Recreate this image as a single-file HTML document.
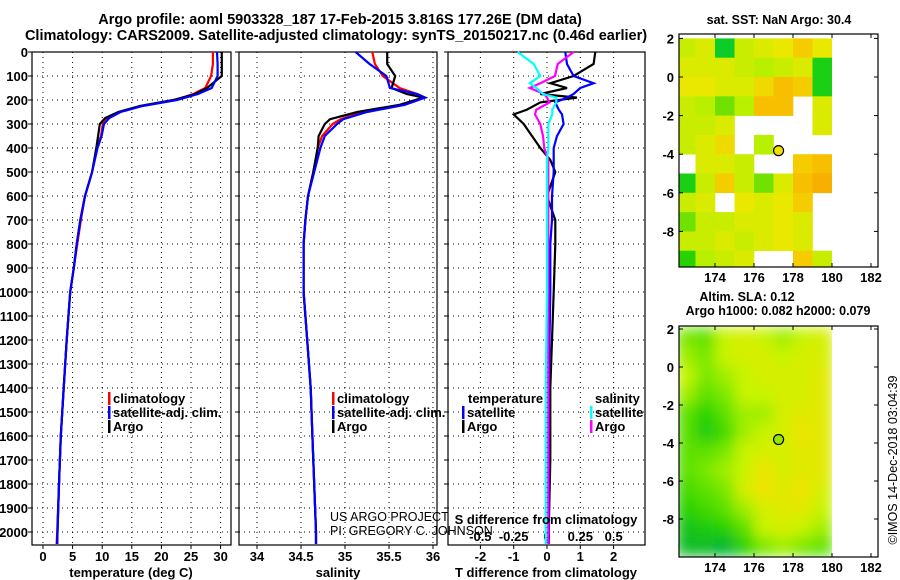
<!DOCTYPE html>
<html><head><meta charset="utf-8"><style>
html,body{margin:0;padding:0;background:#fff;}
svg{display:block;font-family:"Liberation Sans",Arial,sans-serif;}
.b{font-weight:bold;font-size:13px;}
</style></head><body>
<svg id="c" width="900" height="580" viewBox="0 0 900 580" xmlns="http://www.w3.org/2000/svg">
<text x="340" y="24" text-anchor="middle" font-size="14.5" font-weight="bold">Argo profile: aoml 5903328_187 17-Feb-2015 3.816S 177.26E (DM data)</text>
<text x="336" y="40" text-anchor="middle" font-size="14.5" font-weight="bold">Climatology: CARS2009. Satellite-adjusted climatology: synTS_20150217.nc (0.46d earlier)</text>
<g id="g"></g>
</svg>
<script>
// ---- data ----
const depthT = [0,50,100,150,175,200,225,250,275,300,350,400,500,600,700,800,900,1000,1200,1400,1600,1800,2000,2050];
const tempArgo = [30.2,30.2,30.2,27.7,25.7,22.0,16.4,12.7,10.5,9.6,9.3,9.0,8.3,7.1,6.3,5.7,5.2,4.6,4.0,3.5,3.0,2.7,2.45,2.4];
const tempClim = [28.7,28.7,28.4,27.4,25.4,22.3,16.6,12.9,11.0,10.1,9.8,9.1,8.3,7.1,6.4,5.8,5.2,4.6,4.0,3.5,3.0,2.7,2.4,2.3];
const tempSat  = [29.4,29.5,29.5,28.5,26.2,22.6,16.8,13.1,11.2,10.3,9.9,9.2,8.3,7.1,6.3,5.7,5.2,4.6,4.0,3.5,3.0,2.7,2.45,2.4];
const depthS = [0,50,100,150,175,190,220,250,280,300,350,400,500,600,700,800,1000,1200,1400,1600,1800,2000,2050];
const salArgo = [35.48,35.48,35.57,35.53,35.70,35.89,35.62,35.14,34.83,34.77,34.70,34.69,34.64,34.58,34.55,34.53,34.53,34.57,34.61,34.63,34.65,34.67,34.67];
const salClim = [35.31,35.34,35.43,35.62,35.82,35.91,35.66,35.20,34.95,34.86,34.74,34.69,34.64,34.58,34.55,34.53,34.53,34.57,34.61,34.63,34.65,34.67,34.67];
const salSat  = [35.12,35.28,35.47,35.51,35.82,35.91,35.68,35.25,34.98,34.91,34.77,34.72,34.65,34.58,34.55,34.53,34.53,34.57,34.61,34.63,34.65,34.67,34.67];
const depthD = [0,50,100,130,150,175,190,210,240,260,300,350,400,450,500,600,700,800,1000,1400,1700,2000,2050];
const dTArgo = [1.45,1.4,0.8,0.1,0.6,-0.2,0.9,-0.2,-0.6,-1.0,-0.7,-0.45,-0.2,0.1,0.25,0.0,0.25,0.25,0.2,0.1,0.1,0.05,0.05];
const dTSat  = [0.55,0.6,0.8,1.4,1.0,0.8,0.6,0.25,0.35,0.45,0.5,0.3,0.2,0.2,0.2,0.15,0.15,0.1,0.1,0.05,0.05,0.05,0.05];
const dSSat  = [-0.22,-0.1,-0.05,-0.13,-0.08,-0.03,0.07,0.07,0.04,0.04,0.01,0.01,0.01,0.0,0.0,0.0,0.0,0.0,0.0,-0.01,-0.01,-0.01,-0.01];
const dSArgo = [0.2,0.08,0.06,-0.05,-0.13,-0.02,0.0,0.02,-0.08,-0.09,-0.05,-0.03,-0.02,0.01,0.01,0.01,0.01,0.01,0.01,0.01,0.01,0.01,0.01];
const depthTicks = [0,100,200,300,400,500,600,700,800,900,1000,1100,1200,1300,1400,1500,1600,1700,1800,1900,2000];
const tempTicks = [0,5,10,15,20,25,30];
const salTicks = [34,34.5,35,35.5,36];
const salTickLabels = ["34","34.5","35","35.5","36"];
const dTTicks = [-2,-1,0,1,2];
const dSTickLabels = ["-0.5","-0.25","0","0.25","0.5"];
const dSTicks = [-0.5,-0.25,0,0.25,0.5];
const lonTicks = [174,176,178,180,182];
const latTicks = [2,0,-2,-4,-6,-8];
const sstGrid = [
 [30.1,30.2,29.6,30.1,30.2,30.3,30.5,30.3],
 [30.2,30.2,30.2,30.1,30.0,30.1,30.2,29.7],
 [30.3,30.3,30.2,30.2,30.4,30.6,30.5,29.7],
 [30.1,30.0,29.9,30.0,30.6,30.6,NaN,30.2],
 [30.1,30.1,30.2,NaN,NaN,NaN,NaN,30.2],
 [30.1,30.2,30.4,NaN,30.0,NaN,NaN,NaN],
 [NaN,30.2,30.2,30.1,NaN,NaN,30.5,30.6],
 [29.7,30.1,30.5,30.1,29.9,30.2,30.6,30.7],
 [30.1,30.2,NaN,30.3,30.2,30.3,30.5,NaN],
 [29.9,30.1,30.1,30.2,30.2,30.3,30.2,NaN],
 [30.1,30.1,30.2,30.1,30.2,30.3,30.2,NaN],
 [29.8,30.0,30.1,30.2,NaN,NaN,30.5,30.1]];
const slaGrid = [
 [0.10,0.09,0.12,0.13,0.12,0.11,0.12,0.13],
 [0.11,0.10,0.12,0.13,0.13,0.12,0.13,0.13],
 [0.12,0.10,0.11,0.12,0.13,0.13,0.13,0.14],
 [0.11,0.09,0.10,0.12,0.12,0.13,0.13,0.14],
 [0.09,0.07,0.09,0.11,0.11,0.13,0.14,0.14],
 [0.09,0.06,0.08,0.11,0.12,0.13,0.15,0.14],
 [0.09,0.09,0.10,0.12,0.13,0.13,0.14,0.14],
 [0.09,0.10,0.11,0.12,0.15,0.13,0.14,0.14],
 [0.08,0.09,0.10,0.13,0.15,0.14,0.15,0.13],
 [0.07,0.08,0.09,0.11,0.13,0.14,0.14,0.12],
 [0.05,0.06,0.07,0.09,0.12,0.13,0.12,0.11],
 [0.04,0.04,0.03,0.07,0.10,0.11,0.10,0.09]];
const argoLon = 177.26, argoLat = -3.816;

// ---- helpers ----
const NS="http://www.w3.org/2000/svg";
const G=document.getElementById('g');
function el(tag,attrs,parent){const e=document.createElementNS(NS,tag);for(const k in attrs)e.setAttribute(k,attrs[k]);(parent||G).appendChild(e);return e;}
function txt(x,y,s,attrs){const t=el('text',Object.assign({x:x,y:y,'font-size':13,'font-weight':'bold'},attrs||{}));t.textContent=s;return t;}
const yD = d => 52 + d*0.24;
const xT = v => 43 + v*5.92;
const xS = v => 257 + (v-34)*88;
const xDT = v => 547 + v*33.3;
const xDS = v => 547 + v*133.3;
const P1={x0:32,x1:231},P2={x0:239,x1:437},P3={x0:448,x1:645},YT=52,YB=545;

function panel(p,name,vgrid){
  const g=el('g',{});
  
  
  depthTicks.forEach(d=>{el('line',{x1:p.x0,x2:p.x1,y1:yD(d),y2:yD(d),stroke:'#000','stroke-dasharray':'1,4'},g);
    el('line',{x1:p.x0-4,x2:p.x0,y1:yD(d),y2:yD(d),stroke:'#000'},g);});
  vgrid.forEach(x=>{el('line',{x1:x,x2:x,y1:YT,y2:YB,stroke:'#000','stroke-dasharray':'1,4'},g);
    el('line',{x1:x,x2:x,y1:YB,y2:YB+4,stroke:'#000'},g);});
  el('rect',{x:p.x0,y:YT,width:p.x1-p.x0,height:YB-YT,fill:'none',stroke:'#000','stroke-width':1.2},g);
  return g;
}
function line(ds,vs,fx,color,name,w){
  const pts=ds.map((d,i)=>fx(vs[i]).toFixed(1)+','+yD(d).toFixed(1)).join(' ');
  const l=el('polyline',{points:pts,fill:'none',stroke:color,'stroke-width':w||2.2});
  
  
}

// panel 1
panel(P1,'temperature-panel',tempTicks.map(xT));
depthTicks.forEach(d=>{const t=txt(28,yD(d)+5,String(d),{'text-anchor':'end'});});
tempTicks.forEach(v=>{const t=txt(xT(v),561,String(v),{'text-anchor':'middle'});});
line(depthT,tempClim,xT,'#f00','temp-climatology-line');
line(depthT,tempArgo,xT,'#000','temp-argo-line');
line(depthT,tempSat,xT,'#00f','temp-satellite-line');
{const t=txt(131,577,'temperature (deg C)',{'text-anchor':'middle'});}

// panel 2
panel(P2,'salinity-panel',salTicks.map(xS));
salTicks.forEach((v,i)=>{const t=txt(xS(v),561,salTickLabels[i],{'text-anchor':'middle'});});
line(depthS,salClim,xS,'#f00','sal-climatology-line');
line(depthS,salArgo,xS,'#000','sal-argo-line');
line(depthS,salSat,xS,'#00f','sal-satellite-line');
{const t=txt(338,577,'salinity',{'text-anchor':'middle'});}

// panel 3
panel(P3,'difference-panel',dTTicks.map(xDT));
dTTicks.forEach(v=>{const t=txt(xDT(v),561,String(v),{'text-anchor':'middle'});});
dSTicks.forEach((v,i)=>{const t=txt(xDS(v),541,dSTickLabels[i],{'text-anchor':'middle'});});
line(depthD,dTArgo,xDT,'#000','tdiff-argo-line');
line(depthD,dTSat,xDT,'#00f','tdiff-satellite-line');
line(depthD,dSArgo,xDS,'#f0f','sdiff-argo-line');
line(depthD,dSSat,xDS,'#0ff','sdiff-satellite-line');
{const t=txt(546,577,'T difference from climatology',{'text-anchor':'middle'});}
{const t=txt(546,524,'S difference from climatology',{'text-anchor':'middle'});}

// legends
function legItem(x,y,color,label,name){
  const g=el('g',{});
  
  
  el('rect',{x:x,y:y-11,width:2.5,height:13,fill:color},g);
  const t=el('text',{x:x+5,y:y,'font-size':13,'font-weight':'bold'},g);t.textContent=label;
}
legItem(108,403,'#f00','climatology','legend-climatology');
legItem(108,417,'#00f','satellite-adj. clim.','legend-satellite-adj');
legItem(108,431,'#000','Argo','legend-argo');
legItem(332,403,'#f00','climatology','legend2-climatology');
legItem(332,417,'#00f','satellite-adj. clim.','legend2-satellite-adj');
legItem(332,431,'#000','Argo','legend2-argo');
{const t=txt(468,403,'temperature');}
{const t=txt(595,403,'salinity');}
legItem(462,417,'#00f','satellite','legend-tdiff-satellite');
legItem(462,431,'#000','Argo','legend-tdiff-argo');
legItem(590,417,'#0ff','satellite','legend-sdiff-satellite');
legItem(590,431,'#f0f','Argo','legend-sdiff-argo');
{const t=txt(330,521,'US ARGO PROJECT',{'font-weight':'normal','font-size':12.5});}
{const t=txt(330,535,'PI: GREGORY C. JOHNSON',{'font-weight':'normal','font-size':12.5});}

// ---- maps ----
const xL = lon => 715 + (lon-174)*19.5;
function lerpC(stops,v){
  if(v<=stops[0][0])return stops[0][1];
  for(let i=1;i<stops.length;i++){if(v<=stops[i][0]){const a=stops[i-1],b=stops[i],t=(v-a[0])/(b[0]-a[0]);
    return 'rgb('+[0,1,2].map(k=>Math.round(a[1][k]+(b[1][k]-a[1][k])*t)).join(',')+')';}}
  return 'rgb('+stops[stops.length-1][1].join(',')+')';
}
function fixC(c){return typeof c==='string'?c:'rgb('+c.join(',')+')';}
const sstStops=[[29.5,[0,200,60]],[29.8,[40,210,0]],[30.0,[184,240,0]],[30.3,[235,232,0]],[30.6,[248,190,0]],[30.8,[245,160,0]],[31,[255,0,0]]];
const slaStops=[[0.03,[0,180,50]],[0.07,[40,210,0]],[0.10,[120,232,0]],[0.12,[200,244,0]],[0.15,[238,228,0]]];

function mapFrame(y0,yLat,name,grid,stops,blur){
  const g=el('g',{});
  
  
  const clipId='clip'+y0;
  const cp=el('clipPath',{id:clipId},g);
  el('rect',{x:679,y:y0,width:xL(180)-679,height:(y0===34?267:557)-y0},cp);
  const cells=el('g',{'clip-path':'url(#'+clipId+')'},g);
  const inner=el('g',blur?{filter:'url(#bl)'}:{},cells);
  grid.forEach((row,r)=>row.forEach((v,c)=>{
    if(isNaN(v))return;
    const lat=2-r, lon=172+c;
    const cell=el('rect',{x:xL(lon),y:yLat(lat)-(blur?1:0),width:19.5+(blur?1:0.3),height:yLat(lat-1)-yLat(lat)+0.3,fill:fixC(lerpC(stops,v))},inner);
    
    
  }));
  const yb=y0===34?267:557;
  el('rect',{x:679,y:y0,width:199,height:yb-y0,fill:'none',stroke:'#000','stroke-width':1.2},g);
  latTicks.forEach(l=>{const y=yLat(l);el('line',{x1:679,x2:683,y1:y,y2:y,stroke:'#000'},g);el('line',{x1:874,x2:878,y1:y,y2:y,stroke:'#000'},g);
    const t=el('text',{x:674,y:y+5,'text-anchor':'end','font-size':13,'font-weight':'bold'},g);t.textContent=String(l);});
  lonTicks.forEach(l=>{const x=xL(l);el('line',{x1:x,x2:x,y1:yb,y2:yb-4,stroke:'#000'},g);el('line',{x1:x,x2:x,y1:y0,y2:y0+4,stroke:'#000'},g);
    const t=el('text',{x:x,y:yb+15,'text-anchor':'middle','font-size':13,'font-weight':'bold'},g);t.textContent=String(l);});
  const dot=el('circle',{cx:xL(argoLon),cy:yLat(argoLat),r:5,fill:blur?'#9be400':'#f0e000',stroke:'#000','stroke-width':1.2},g);
  
  
}
const defs=el('defs',{});
const f=el('filter',{id:'bl',x:'-10%',y:'-10%',width:'120%',height:'120%'},defs);
el('feGaussianBlur',{stdDeviation:7},f);
const yLatTop = lat => 77 - lat*19.3;
const yLatBot = lat => 367 - lat*19.0;
mapFrame(34,yLatTop,'sst-map',sstGrid,sstStops,false);
mapFrame(326,yLatBot,'sla-map',slaGrid,slaStops,true);
{const t=txt(779,24,'sat. SST: NaN Argo: 30.4',{'text-anchor':'middle','font-size':12.5});}
{const t=txt(747,301,'Altim. SLA: 0.12',{'text-anchor':'middle','font-size':12.5});}
{const t=txt(778,315,'Argo h1000: 0.082 h2000: 0.079',{'text-anchor':'middle','font-size':12.5});}
{const t=txt(0,0,'©IMOS 14-Dec-2018 03:04:39',{'text-anchor':'middle','font-size':12.5,'font-weight':'normal',transform:'translate(897,460) rotate(-90)'});}
</script>
</body></html>
